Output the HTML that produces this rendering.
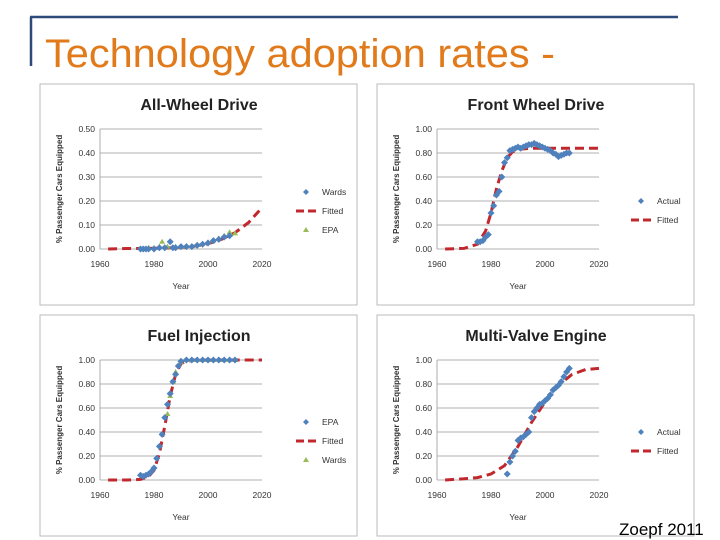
<!DOCTYPE html>
<html><head><meta charset="utf-8"><style>
body{margin:0;background:#fff;width:720px;height:540px;overflow:hidden;font-family:"Liberation Sans",sans-serif}
svg{position:absolute;left:0;top:0}
</style></head><body>
<svg id="s" width="720" height="540" xmlns="http://www.w3.org/2000/svg">
<line x1="30" y1="17" x2="678" y2="17" stroke="#2e4a7a" stroke-width="2.5"/>
<line x1="31" y1="17" x2="31" y2="66" stroke="#2e4a7a" stroke-width="2.5"/>
<text x="45" y="67" font-size="40" textLength="510" lengthAdjust="spacingAndGlyphs" fill="#e07a1a">Technology adoption rates -</text>
</svg>
<script>
// All-Wheel Drive
const awdWardsX=[1975,1976,1977,1978,1980,1982,1984,1986,1987,1988,1990,1992,1994,1996,1998,2000,2002,2004,2006,2008];
const awdWardsY=[0,0,0,0,0,0.005,0.005,0.03,0.005,0.005,0.01,0.01,0.01,0.015,0.02,0.025,0.035,0.04,0.05,0.055];
const awdFitX=[1963,1970,1980,1990,1995,2000,2005,2010,2015,2019];
const awdFitY=[0,0.002,0.003,0.006,0.012,0.022,0.04,0.068,0.11,0.16];
const awdEpaX=[1978,1980,1982,1983,1985,1988,1990,1992,1994,1996,1998,2000,2002,2004,2006,2008,2010];
const awdEpaY=[0.005,0.005,0.01,0.03,0.01,0.01,0.01,0.012,0.012,0.018,0.022,0.028,0.035,0.045,0.055,0.07,0.065];
// Front Wheel Drive
const fwdX=[1975,1976,1977,1978,1979,1980,1981,1982,1983,1984,1985,1986,1987,1988,1989,1990,1991,1992,1993,1994,1995,1996,1997,1998,1999,2000,2001,2002,2003,2004,2005,2006,2007,2008,2009];
const fwdY=[0.06,0.06,0.07,0.1,0.12,0.3,0.36,0.45,0.48,0.6,0.72,0.76,0.82,0.83,0.84,0.85,0.84,0.85,0.86,0.87,0.87,0.88,0.87,0.86,0.85,0.84,0.83,0.82,0.8,0.79,0.77,0.78,0.79,0.8,0.8];
const fwdFitX=[1963,1970,1975,1978,1980,1982,1984,1986,1988,1990,1995,2000,2010,2020];
const fwdFitY=[0,0.005,0.04,0.15,0.3,0.5,0.65,0.76,0.81,0.83,0.84,0.84,0.84,0.84];
// Fuel Injection
const fiX=[1975,1976,1977,1978,1979,1980,1981,1982,1983,1984,1985,1986,1987,1988,1989,1990,1992,1994,1996,1998,2000,2002,2004,2006,2008,2010];
const fiY=[0.04,0.03,0.04,0.05,0.07,0.1,0.18,0.28,0.38,0.52,0.63,0.72,0.82,0.88,0.95,0.99,1,1,1,1,1,1,1,1,1,1];
const fiFitX=[1963,1970,1975,1978,1980,1982,1984,1986,1988,1990,1992,1995,2000,2010,2020];
const fiFitY=[0,0,0.005,0.03,0.08,0.22,0.45,0.7,0.88,0.97,0.99,1,1,1,1];
const fiWardsX=[1985,1986,1987,1988,1990,1992,1994,1996,1998,2000,2002,2004,2006,2008,2010];
const fiWardsY=[0.55,0.7,0.82,0.9,0.98,1,1,1,1,1,1,1,1,1,1];
// Multi-Valve Engine
const mvX=[1986,1987,1988,1989,1990,1991,1992,1993,1994,1995,1996,1997,1998,1999,2000,2001,2002,2003,2004,2005,2006,2007,2008,2009];
const mvY=[0.05,0.15,0.2,0.24,0.33,0.35,0.36,0.38,0.4,0.52,0.57,0.6,0.63,0.64,0.66,0.68,0.71,0.75,0.77,0.79,0.82,0.86,0.9,0.93];
const mvFitX=[1963,1970,1975,1980,1985,1990,1995,2000,2005,2010,2015,2020];
const mvFitY=[0,0.01,0.02,0.05,0.12,0.28,0.48,0.65,0.79,0.88,0.92,0.93];

const NS='http://www.w3.org/2000/svg';
const svg=document.getElementById('s');
function mk(tag,attrs,parent){const e=document.createElementNS(NS,tag);for(const k in attrs)e.setAttribute(k,attrs[k]);(parent||svg).appendChild(e);return e;}
const blue='#4f81bd',red='#c0282d',green='#9bbb59';

function panel(bx,by,title,ymax,yLabels,series,legend,legY,legX){
  const g=mk('g',{});
  
  
  const box=mk('rect',{x:bx,y:by,width:317,height:221,fill:'#fff',stroke:'#bbb'},g);
  
  const L=bx+60,R=bx+222,T=by+45,B=by+165;
  const sx=v=>L+(v-1960)/60*(R-L), sy=v=>B-v/ymax*(B-T);
  const t=mk('text',{x:bx+159,y:by+26,'font-size':16,'font-weight':'bold','text-anchor':'middle',fill:'#222'},g);t.textContent=title;
  
  yLabels.forEach((lab,i)=>{const v=ymax*i/5;
    const gl=mk('line',{x1:L,x2:R,y1:sy(v),y2:sy(v),stroke:'#999','stroke-width':0.8},g);
    
    const tt=mk('text',{x:L-5,y:sy(v)+3,'font-size':8.5,'text-anchor':'end',fill:'#333'},g);tt.textContent=lab;
    });
  const ax=mk('line',{x1:L,x2:L,y1:T,y2:B,stroke:'#999','stroke-width':0.8},g);
  
  [1960,1980,2000,2020].forEach(yr=>{const tt=mk('text',{x:sx(yr),y:B+18,'font-size':8.5,'text-anchor':'middle',fill:'#333'},g);tt.textContent=yr;
    });
  const xt=mk('text',{x:(L+R)/2,y:B+40,'font-size':8.5,'text-anchor':'middle',fill:'#333'},g);xt.textContent='Year';
  
  const yt=mk('text',{x:0,y:0,'font-size':8,'font-weight':'bold','text-anchor':'middle',fill:'#333',transform:`translate(${bx+22},${(T+B)/2}) rotate(-90)`},g);yt.textContent='% Passenger Cars Equipped';
  
  series.forEach(s=>{
    if(s.type==='line'){const p=mk('polyline',{points:s.x.map((x,i)=>sx(x)+','+sy(s.y[i])).join(' '),fill:'none',stroke:red,'stroke-width':3,'stroke-dasharray':'9,5'},g);
      }
    else s.x.forEach((x,i)=>{const cx=sx(x),cy=sy(s.y[i]);let m;
      if(s.type==='tri')m=mk('polygon',{points:`${cx},${cy-3} ${cx-3},${cy+2} ${cx+3},${cy+2}`,fill:green},g);
      else m=mk('polygon',{points:`${cx},${cy-3.5} ${cx+3.5},${cy} ${cx},${cy+3.5} ${cx-3.5},${cy}`,fill:blue},g);
      });
  });
  legend.forEach((lg,i)=>{const y=by+legY+i*19;const x=bx+legX;let m;
    if(lg.type==='line')m=mk('line',{x1:x-10,x2:x+12,y1:y,y2:y,stroke:red,'stroke-width':3,'stroke-dasharray':'8,4'},g);
    else if(lg.type==='tri')m=mk('polygon',{points:`${x},${y-3} ${x-3},${y+2} ${x+3},${y+2}`,fill:green},g);
    else m=mk('polygon',{points:`${x},${y-3} ${x+3},${y} ${x},${y+3} ${x-3},${y}`,fill:blue},g);
    
    const tx=mk('text',{x:x+16,y:y+3,'font-size':8.5,fill:'#333'},g);tx.textContent=lg.label;
    });
}
const Y1=['0.00','0.20','0.40','0.60','0.80','1.00'];
panel(40,84,'All-Wheel Drive',0.5,['0.00','0.10','0.20','0.30','0.40','0.50'],
 [{type:'line',x:awdFitX,y:awdFitY},{type:'tri',name:'epa',x:awdEpaX,y:awdEpaY},{type:'dia',name:'wards',x:awdWardsX,y:awdWardsY}],
 [{type:'dia',label:'Wards'},{type:'line',label:'Fitted'},{type:'tri',label:'EPA'}],108,266);
panel(377,84,'Front Wheel Drive',1,Y1,
 [{type:'line',x:fwdFitX,y:fwdFitY},{type:'dia',name:'actual',x:fwdX,y:fwdY}],
 [{type:'dia',label:'Actual'},{type:'line',label:'Fitted'}],117,264);
panel(40,315,'Fuel Injection',1,Y1,
 [{type:'line',x:fiFitX,y:fiFitY},{type:'tri',name:'wards',x:fiWardsX,y:fiWardsY},{type:'dia',name:'epa',x:fiX,y:fiY}],
 [{type:'dia',label:'EPA'},{type:'line',label:'Fitted'},{type:'tri',label:'Wards'}],107,266);
panel(377,315,'Multi-Valve Engine',1,Y1,
 [{type:'line',x:mvFitX,y:mvFitY},{type:'dia',name:'actual',x:mvX,y:mvY}],
 [{type:'dia',label:'Actual'},{type:'line',label:'Fitted'}],117,264);
const cit=mk('text',{x:619,y:535,'font-size':17,fill:'#000'});
cit.textContent='Zoepf 2011';


</script>
</body></html>
